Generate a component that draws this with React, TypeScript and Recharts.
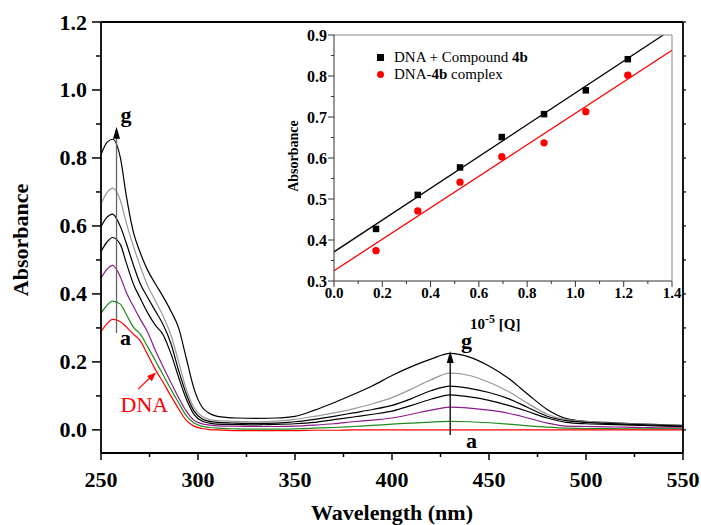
import React from "react";
import {
  ComposedChart,
  Legend,
  Line,
  LineChart,
  ReferenceDot,
  ReferenceLine,
  Scatter,
  XAxis,
  YAxis,
  ZAxis,
} from "recharts";

const FONT = '"Liberation Serif", "Times New Roman", serif';

// wavelength grid (nm) shared by all spectra
const wavelengths = [
  250, 253, 256, 260, 263, 267, 270, 274, 278, 282, 286, 290, 294, 298, 302, 306, 310, 320, 330, 340, 350,
  360, 370, 380, 390, 400, 410, 420, 430, 440, 450, 460, 470, 480, 490, 500, 510, 520, 530, 540, 550,
];

// a: DNA alone
const curveA = [
  0.289, 0.312, 0.325, 0.318, 0.303, 0.28, 0.264, 0.222, 0.178, 0.14, 0.1, 0.062, 0.028, 0.011, 0.004, 0.001, 0,
  -0.002, -0.002, -0.002, -0.002, -0.001, -0.001, 0, 0, 0, 0, 0, 0, 0, 0, 0, 0, 0, 0, 0, 0, 0, 0, 0, 0,
];
const curveB = [
  0.343, 0.366, 0.379, 0.37, 0.34, 0.3, 0.284, 0.245, 0.204, 0.162, 0.12, 0.08, 0.042, 0.02, 0.011, 0.007, 0.005,
  0.003, 0.002, 0.002, 0.003, 0.005, 0.007, 0.01, 0.013, 0.017, 0.02, 0.023, 0.025, 0.024, 0.021, 0.017, 0.012,
  0.008, 0.005, 0.004, 0.004, 0.003, 0.003, 0.003, 0.003,
];
const curveC = [
  0.446, 0.472, 0.484, 0.45, 0.405, 0.36, 0.328, 0.288, 0.234, 0.186, 0.14, 0.095, 0.055, 0.028, 0.018, 0.014,
  0.012, 0.011, 0.01, 0.01, 0.011, 0.014, 0.018, 0.024, 0.029, 0.035, 0.046, 0.058, 0.067, 0.064, 0.058, 0.049,
  0.035, 0.02, 0.011, 0.01, 0.009, 0.008, 0.007, 0.006, 0.006,
];
const curveD = [
  0.525, 0.552, 0.566, 0.545, 0.492, 0.425, 0.39, 0.345, 0.308, 0.28, 0.225, 0.155, 0.09, 0.045, 0.026, 0.02,
  0.017, 0.016, 0.015, 0.016, 0.018, 0.022, 0.03, 0.038, 0.046, 0.055, 0.072, 0.09, 0.103, 0.097, 0.087, 0.072,
  0.054, 0.035, 0.022, 0.018, 0.016, 0.015, 0.013, 0.011, 0.01,
];
const curveE = [
  0.598, 0.625, 0.635, 0.598, 0.55, 0.48, 0.433, 0.39, 0.35, 0.31, 0.255, 0.175, 0.105, 0.055, 0.033, 0.025,
  0.022, 0.02, 0.019, 0.02, 0.024, 0.031, 0.04, 0.05, 0.06, 0.072, 0.092, 0.115, 0.129, 0.122, 0.11, 0.092,
  0.066, 0.04, 0.027, 0.022, 0.019, 0.017, 0.015, 0.013, 0.011,
];
const curveF = [
  0.665, 0.697, 0.711, 0.675, 0.61, 0.535, 0.485, 0.425, 0.38, 0.335, 0.28, 0.2, 0.12, 0.065, 0.04, 0.03, 0.027,
  0.025, 0.024, 0.026, 0.031, 0.04, 0.05, 0.062, 0.077, 0.095, 0.12, 0.147, 0.167, 0.16, 0.14, 0.113, 0.078,
  0.046, 0.03, 0.025, 0.021, 0.019, 0.016, 0.014, 0.012,
];
const curveG = [
  0.81, 0.845, 0.855, 0.8, 0.69, 0.575, 0.525, 0.47, 0.43, 0.392, 0.35, 0.3, 0.21, 0.12, 0.068, 0.048, 0.04,
  0.035, 0.034, 0.035, 0.04, 0.058, 0.08, 0.104, 0.13, 0.16, 0.186, 0.208, 0.225, 0.214, 0.188, 0.152, 0.105,
  0.06, 0.033, 0.025, 0.022, 0.019, 0.017, 0.015, 0.013,
];

const xTicks = [250, 275, 300, 325, 350, 375, 400, 425, 450, 475, 500, 525, 550];
const yTicks = [0, 0.1, 0.2, 0.3, 0.4, 0.5, 0.6, 0.7, 0.8, 0.9, 1.0, 1.1, 1.2];

// inset: absorbance vs 10^-5 [Q]
const insetQ = [0.174, 0.347, 0.522, 0.695, 0.87, 1.043, 1.217];
const insetCompound = [0.427, 0.51, 0.577, 0.651, 0.707, 0.765, 0.841];
const insetComplex = [0.374, 0.471, 0.541, 0.603, 0.637, 0.713, 0.802];
const fitCompound = [
  { q: 0, v: 0.371 },
  { q: 1.364, v: 0.9 },
];
const fitComplex = [
  { q: 0, v: 0.325 },
  { q: 1.4, v: 0.863 },
];
const insetXTicks = [0, 0.1, 0.2, 0.3, 0.4, 0.5, 0.6, 0.7, 0.8, 0.9, 1.0, 1.1, 1.2, 1.3, 1.4];
const insetYTicks = [0.3, 0.35, 0.4, 0.45, 0.5, 0.55, 0.6, 0.65, 0.7, 0.75, 0.8, 0.85, 0.9];

const spectra = wavelengths.map((wl, i) => ({
  wl,
  a: curveA[i],
  b: curveB[i],
  c: curveC[i],
  d: curveD[i],
  e: curveE[i],
  f: curveF[i],
  g: curveG[i],
}));

const compoundPts = insetQ.map((q, i) => ({ q, v: insetCompound[i] }));
const complexPts = insetQ.map((q, i) => ({ q, v: insetComplex[i] }));

const series = [
  { key: "g", color: "#000000" },
  { key: "f", color: "#999999" },
  { key: "e", color: "#000000" },
  { key: "d", color: "#000000" },
  { key: "c", color: "#8b1a8b" },
  { key: "b", color: "#1f8a1f" },
  { key: "a", color: "#ff0000" },
];

const isMultiple = (v: number, step: number) => Math.abs(v / step - Math.round(v / step)) < 1e-6;

const BottomTick = (props: any) => {
  const { x, y, payload } = props;
  const major = isMultiple(payload.value, 50);
  return (
    <g>
      <line x1={x} y1={y} x2={x} y2={y + (major ? 7 : 4)} stroke="#000" strokeWidth={1.5} />
      {major && (
        <text x={x} y={y + 34} textAnchor="middle" fontSize={22} fontWeight="bold" fontFamily={FONT} fill="#000">
          {payload.value}
        </text>
      )}
    </g>
  );
};

const LeftTick = (props: any) => {
  const { x, y, payload } = props;
  const major = isMultiple(payload.value, 0.2);
  return (
    <g>
      <line x1={x} y1={y} x2={x - (major ? 9 : 5)} y2={y} stroke="#000" strokeWidth={1.5} />
      {major && (
        <text x={x - 14} y={y + 7.5} textAnchor="end" fontSize={22} fontWeight="bold" fontFamily={FONT} fill="#000">
          {payload.value.toFixed(1)}
        </text>
      )}
    </g>
  );
};

const TopTick = (props: any) => {
  const { x, y } = props;
  return <line x1={x} y1={y} x2={x} y2={y - 3} stroke="#000" strokeWidth={1.2} />;
};

const RightTick = (props: any) => {
  const { x, y } = props;
  return <line x1={x} y1={y} x2={x + 3} y2={y} stroke="#000" strokeWidth={1.2} />;
};

const InsetBottomTick = (props: any) => {
  const { x, y, payload } = props;
  const major = isMultiple(payload.value, 0.2);
  return (
    <g>
      <line x1={x} y1={y} x2={x} y2={y + (major ? 6 : 3)} stroke="#333" strokeWidth={1} />
      {major && (
        <text x={x} y={y + 17} textAnchor="middle" fontSize={15} fontWeight="bold" fontFamily={FONT} fill="#000">
          {payload.value.toFixed(1)}
        </text>
      )}
    </g>
  );
};

const InsetLeftTick = (props: any) => {
  const { x, y, payload } = props;
  const major = isMultiple(payload.value, 0.1);
  return (
    <g>
      <line x1={x} y1={y} x2={x - (major ? 6 : 3)} y2={y} stroke="#333" strokeWidth={1} />
      {major && (
        <text x={x - 7} y={y + 5.5} textAnchor="end" fontSize={16} fontWeight="bold" fontFamily={FONT} fill="#000">
          {payload.value.toFixed(1)}
        </text>
      )}
    </g>
  );
};

const arrowUp = (color: string) => (p: any) =>
  <polygon points={`${p.cx},${p.cy} ${p.cx - 3.5},${p.cy + 12} ${p.cx + 3.5},${p.cy + 12}`} fill={color} />;

const dnaArrowHead = (p: any) => {
  const { cx, cy } = p;
  return (
    <polygon
      points={`${cx},${cy} ${cx - 4.2},${cy + 8.7} ${cx - 9},${cy + 3.5}`}
      fill="#ff0000"
    />
  );
};

const InsetLegend = () => (
  <div style={{ fontFamily: FONT, fontSize: 15, lineHeight: "17px", color: "#000", whiteSpace: "nowrap" }}>
    <div style={{ display: "flex", alignItems: "center" }}>
      <span style={{ display: "inline-block", width: 7, height: 7, background: "#000", marginRight: 10 }} />
      <span>
        DNA + Compound <b>4b</b>
      </span>
    </div>
    <div style={{ display: "flex", alignItems: "center" }}>
      <span
        style={{ display: "inline-block", width: 7, height: 7, borderRadius: "50%", background: "#ff0000", marginRight: 10 }}
      />
      <span>
        DNA-<b>4b</b> complex
      </span>
    </div>
  </div>
);

const textStyle = { fontFamily: FONT, fontWeight: "bold" as const, fill: "#000" };

export default function App() {
  return (
    <div style={{ position: "fixed", left: 8, top: 8, width: 693, height: 517, background: "#fff" }}>
      <LineChart width={693} height={517} data={spectra} margin={{ top: 6, right: 8, bottom: 0, left: 0 }}>
        <XAxis
          dataKey="wl"
          type="number"
          domain={[250, 550]}
          ticks={xTicks}
          interval={0}
          tickSize={0}
          tickMargin={0}
          tick={BottomTick}
          height={72}
          axisLine={{ stroke: "#000", strokeWidth: 1.8 }}
          allowDataOverflow
        />
        <XAxis
          xAxisId="top"
          orientation="top"
          type="number"
          domain={[250, 550]}
          ticks={xTicks}
          interval={0}
          tickSize={0}
          tickMargin={0}
          tick={TopTick}
          height={8}
          axisLine={{ stroke: "#000", strokeWidth: 1.8 }}
          allowDataOverflow
        />
        <YAxis
          type="number"
          domain={[-0.068, 1.2]}
          ticks={yTicks}
          interval={0}
          tickSize={0}
          tickMargin={0}
          tick={LeftTick}
          width={93}
          axisLine={{ stroke: "#000", strokeWidth: 1.8 }}
          allowDataOverflow
        />
        <YAxis
          yAxisId="right"
          orientation="right"
          type="number"
          domain={[-0.068, 1.2]}
          ticks={yTicks}
          interval={0}
          tickSize={0}
          tickMargin={0}
          tick={RightTick}
          width={10}
          axisLine={{ stroke: "#000", strokeWidth: 1.8 }}
          allowDataOverflow
        />
        {series.map((s) => (
          <Line
            key={s.key}
            type="monotone"
            dataKey={s.key}
            stroke={s.color}
            strokeWidth={1.2}
            dot={false}
            isAnimationActive={false}
          />
        ))}

        <ReferenceLine segment={[{ x: 258, y: 0.285 }, { x: 258, y: 0.88 }]} stroke="#666" strokeWidth={1.3} />
        <ReferenceDot x={258} y={0.892} r={0} ifOverflow="visible" shape={arrowUp("#000")} />
        <ReferenceLine segment={[{ x: 430, y: -0.015 }, { x: 430, y: 0.22 }]} stroke="#000" strokeWidth={1.3} />
        <ReferenceDot x={430} y={0.232} r={0} ifOverflow="visible" shape={arrowUp("#000")} />
        <ReferenceLine segment={[{ x: 269.1, y: 0.12 }, { x: 276.5, y: 0.16 }]} stroke="#ff0000" strokeWidth={1.2} />
        <ReferenceDot x={278.4} y={0.169} r={0} ifOverflow="visible" shape={dnaArrowHead} />

        <text x={112.5} y={114} fontSize={22} {...textStyle}>g</text>
        <text x={112} y={337} fontSize={22} {...textStyle}>a</text>
        <text x={453} y={340} fontSize={22} {...textStyle}>g</text>
        <text x={458} y={440} fontSize={22} {...textStyle}>a</text>
        <text x={112.5} y={404} fontSize={22} fontFamily={FONT} fill="#ff0000">DNA</text>
        <text x={384} y={512} fontSize={22} textAnchor="middle" {...textStyle}>Wavelength (nm)</text>
        <text x={20} y={232} fontSize={22} textAnchor="middle" transform="rotate(-90 20 232)" {...textStyle}>
          Absorbance
        </text>
      </LineChart>

      <div style={{ position: "absolute", left: 272, top: 17 }}>
        <ComposedChart width={410} height={320} margin={{ top: 9, right: 17, bottom: 0, left: 0 }}>
          <XAxis
            dataKey="q"
            type="number"
            domain={[0, 1.4]}
            ticks={insetXTicks}
            interval={0}
            tickSize={0}
            tickMargin={0}
            tick={InsetBottomTick}
            height={64}
            axisLine={{ stroke: "#333", strokeWidth: 1 }}
            allowDataOverflow
          />
          <XAxis
            xAxisId="top"
            orientation="top"
            type="number"
            domain={[0, 1.4]}
            tick={false}
            tickLine={false}
            height={1}
            axisLine={{ stroke: "#888", strokeWidth: 1 }}
          />
          <YAxis
            dataKey="v"
            type="number"
            domain={[0.3, 0.9]}
            ticks={insetYTicks}
            interval={0}
            tickSize={0}
            tickMargin={0}
            tick={InsetLeftTick}
            width={54}
            axisLine={{ stroke: "#333", strokeWidth: 1 }}
            allowDataOverflow
          />
          <YAxis
            yAxisId="right"
            orientation="right"
            type="number"
            domain={[0.3, 0.9]}
            tick={false}
            tickLine={false}
            width={1}
            axisLine={{ stroke: "#888", strokeWidth: 1 }}
          />
          <ZAxis range={[42, 42]} />
          <Line data={fitCompound} dataKey="v" stroke="#000" strokeWidth={1.3} dot={false} isAnimationActive={false} />
          <Line data={fitComplex} dataKey="v" stroke="#ff0000" strokeWidth={1.3} dot={false} isAnimationActive={false} />
          <Scatter data={compoundPts} dataKey="v" shape="square" fill="#000" isAnimationActive={false} />
          <Scatter data={complexPts} dataKey="v" shape="circle" fill="#ff0000" isAnimationActive={false} />
          <Legend
            layout="vertical"
            align="center"
            verticalAlign="middle"
            content={InsetLegend}
            wrapperStyle={{ left: 97, top: 24, width: "auto" }}
          />
          <text x={18} y={131} fontSize={14} textAnchor="middle" transform="rotate(-90 18 131)" {...textStyle}>
            Absorbance
          </text>
          <text x={190} y={304} fontSize={15} {...textStyle}>
            10
            <tspan dy={-6} fontSize={12}>-5</tspan>
            <tspan dy={6} fontSize={15}> [Q]</tspan>
          </text>
        </ComposedChart>
      </div>
    </div>
  );
}
